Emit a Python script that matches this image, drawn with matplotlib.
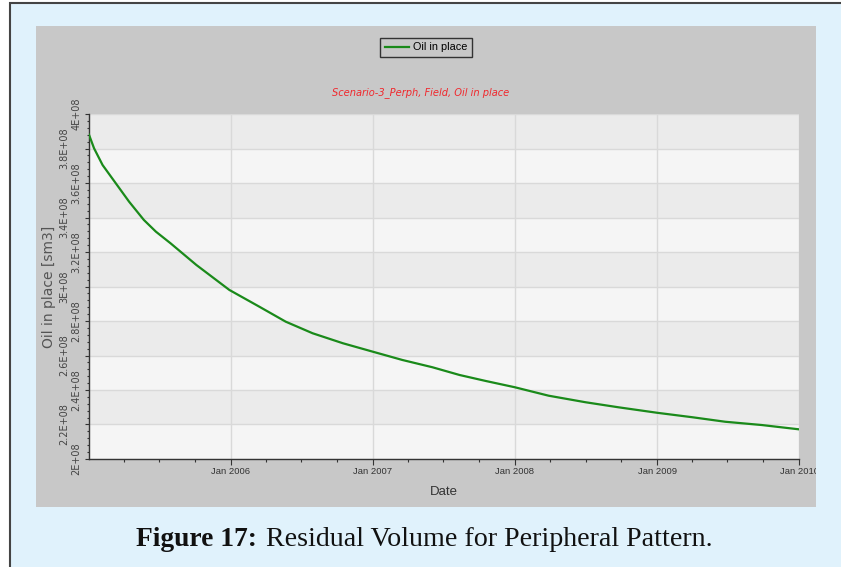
#!/usr/bin/env python3
"""Residual oil in place, peripheral pattern (Scenario-3_Perph), Jan 2005 - Jan 2010."""
import numpy as np
import pandas as pd
import matplotlib
matplotlib.use("Agg")
import matplotlib.pyplot as plt
import matplotlib.dates as mdates
from matplotlib.patches import Rectangle
from matplotlib.ticker import FixedLocator, MultipleLocator, FuncFormatter

# values (sm3, in units of 1E+08)
DATES = ["2005-01-01", "2005-01-14", "2005-02-05", "2005-03-11", "2005-04-14",
         "2005-05-22", "2005-06-22", "2005-07-30", "2005-10-04", "2005-12-28",
         "2006-03-15", "2006-05-22", "2006-07-30", "2006-10-16", "2007-01-01",
         "2007-03-18", "2007-06-03", "2007-08-12", "2007-10-19", "2008-01-01",
         "2008-03-28", "2008-07-01", "2008-09-23", "2009-01-01", "2009-04-02",
         "2009-06-25", "2009-09-27", "2010-01-01"]
OIP_E8 = [3.880, 3.801, 3.704, 3.598, 3.492, 3.386, 3.318, 3.250, 3.125, 2.980,
          2.883, 2.796, 2.729, 2.671, 2.622, 2.574, 2.532, 2.487, 2.452, 2.416,
          2.367, 2.329, 2.300, 2.268, 2.242, 2.216, 2.197, 2.172]
Y_TICKS_E8 = [2.0, 2.2, 2.4, 2.6, 2.8, 3.0, 3.2, 3.4, 3.6, 3.8, 4.0]
X_TICKS = ["2006-01-01", "2007-01-01", "2008-01-01", "2009-01-01", "2010-01-01"]

SERIES = "Oil in place"
TITLE = "Scenario-3_Perph, Field, Oil in place"
CAPTION_BOLD = "Figure 17:"
CAPTION = "Residual Volume for Peripheral Pattern."

W, H = 841, 567
BLUE_BG = "#e0f2fc"
PANEL = "#c8c8c8"
BAND_DARK = "#ebebeb"
BAND_LIGHT = "#f5f5f5"
GRID = "#d9d9d9"
GREEN = "#1a8a1a"


def px(x, y):
    """pixel position (from top-left) -> figure fraction"""
    return x / W, 1 - y / H


def main():
    fig = plt.figure(figsize=(W / 100, H / 100), dpi=100, facecolor="white")

    # page frame and grey chart panel
    fig.add_artist(Rectangle(px(10, 600), 900 / W, 597 / H, transform=fig.transFigure,
                             facecolor=BLUE_BG, edgecolor="#444444", lw=1.5, zorder=-3))
    fig.add_artist(Rectangle(px(36, 507), 780 / W, 481 / H, transform=fig.transFigure,
                             facecolor=PANEL, edgecolor="none", zorder=-2))

    l, b = px(89, 459)
    r, t = px(799, 114)
    ax = fig.add_axes([l, b, r - l, t - b])
    ax.set_facecolor(BAND_LIGHT)

    dates = pd.to_datetime(DATES)
    vals = np.array(OIP_E8) * 1e8

    # alternating horizontal bands
    for i in range(len(Y_TICKS_E8) - 1):
        if i % 2 == 1:
            ax.axhspan(Y_TICKS_E8[i] * 1e8, Y_TICKS_E8[i + 1] * 1e8,
                       color=BAND_DARK, lw=0, zorder=0)

    ax.plot(dates, vals, color=GREEN, lw=1.6, zorder=3, label=SERIES)

    ax.set_xlim(pd.Timestamp("2005-01-01"), pd.Timestamp("2010-01-01"))
    ax.set_ylim(2e8, 4e8)

    ax.xaxis.set_major_locator(FixedLocator(mdates.date2num(pd.to_datetime(X_TICKS))))
    ax.xaxis.set_major_formatter(mdates.DateFormatter("Jan %Y"))
    ax.xaxis.set_minor_locator(mdates.MonthLocator(bymonth=[4, 7, 10]))
    ax.yaxis.set_major_locator(FixedLocator([v * 1e8 for v in Y_TICKS_E8]))
    ax.yaxis.set_minor_locator(MultipleLocator(0.04e8))
    ax.yaxis.set_major_formatter(FuncFormatter(lambda v, p: f"{v / 1e8:g}E+08"))

    ax.grid(True, which="major", color=GRID, lw=1.0, zorder=1)
    ax.set_axisbelow(True)
    for s in ("top", "right"):
        ax.spines[s].set_visible(False)
    for s in ("left", "bottom"):
        ax.spines[s].set_color("#333333")
        ax.spines[s].set_linewidth(1.0)

    ax.tick_params(axis="x", which="major", length=4.5, width=0.8, color="#333333",
                   pad=1.5, labelsize=6.8, labelcolor="#333333")
    ax.tick_params(axis="x", which="minor", length=2.5, width=0.8, color="#333333")
    ax.tick_params(axis="y", which="major", length=3, width=0.8, color="#333333",
                   labelsize=7, labelcolor="#444444", labelrotation=90)
    ax.tick_params(axis="y", which="minor", length=1.8, width=0.8, color="#333333")
    for lab in ax.get_xticklabels():
        lab.set_fontfamily("Liberation Sans")
    # staggered y labels: every other one sits further out
    for i, tick in enumerate(ax.yaxis.get_major_ticks()):
        tick.set_pad(2.5 if i % 2 == 0 else 11)
        tick.label1.set_va("center")

    ax.set_xlabel("Date", fontsize=9.5, color="#333333", family="Liberation Sans")
    ax.xaxis.set_label_coords(0.5, (459 - 492) / 345, transform=ax.transAxes)
    ax.xaxis.label.set_va("center")
    ax.set_ylabel("Oil in place [sm3]", fontsize=10, color="#555555")
    ax.yaxis.set_label_coords((49 - 89) / 710, 0.5)
    ax.yaxis.label.set_va("center")

    fig.text(*px(421, 93), TITLE, color="#f0282d", style="italic", fontsize=7.1,
             ha="center", va="center")

    leg = fig.legend(loc="center", bbox_to_anchor=px(426, 47.5),
                     prop={"family": "Liberation Sans", "size": 7.8},
                     handlelength=2.2, handletextpad=0.4, borderpad=0.45,
                     fancybox=False, framealpha=1, facecolor=PANEL, edgecolor="#333333")
    leg.get_frame().set_linewidth(1.0)

    # the panel clips the last date label on the right
    fig.add_artist(Rectangle(px(816, 507), 30 / W, 481 / H, transform=fig.transFigure,
                             facecolor=BLUE_BG, edgecolor="none", zorder=10))

    fig.text(*px(256.5, 545.7), CAPTION_BOLD, family="Liberation Serif", weight="bold",
             fontsize=19.8, ha="right", va="baseline", color="#111111")
    fig.text(*px(265.7, 545.7), CAPTION, family="Liberation Serif",
             fontsize=20.2, ha="left", va="baseline", color="#111111")

    fig.savefig("out.png", dpi=100, facecolor=fig.get_facecolor())
    plt.close(fig)


if __name__ == "__main__":
    main()
